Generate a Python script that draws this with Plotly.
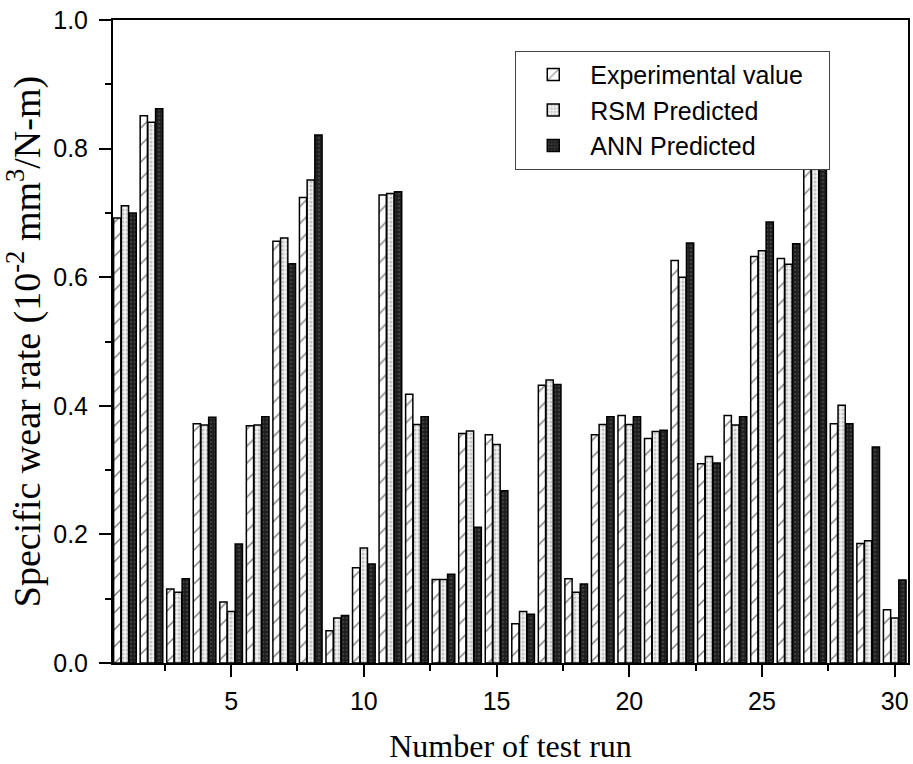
import plotly.graph_objects as go

runs = list(range(1, 31))
experimental = [0.692, 0.851, 0.115, 0.372, 0.095, 0.369, 0.656, 0.724, 0.050, 0.148,
                0.728, 0.418, 0.130, 0.357, 0.355, 0.061, 0.432, 0.131, 0.355, 0.385,
                0.349, 0.626, 0.310, 0.385, 0.632, 0.629, 0.820, 0.372, 0.186, 0.083]
rsm_predicted = [0.711, 0.841, 0.110, 0.370, 0.080, 0.370, 0.661, 0.751, 0.070, 0.179,
                 0.730, 0.371, 0.130, 0.361, 0.340, 0.080, 0.440, 0.110, 0.371, 0.371,
                 0.360, 0.600, 0.321, 0.370, 0.641, 0.620, 0.830, 0.401, 0.190, 0.070]
ann_predicted = [0.700, 0.862, 0.131, 0.382, 0.185, 0.383, 0.621, 0.821, 0.074, 0.154,
                 0.733, 0.383, 0.138, 0.211, 0.268, 0.076, 0.433, 0.123, 0.383, 0.383,
                 0.362, 0.653, 0.311, 0.383, 0.686, 0.652, 0.850, 0.372, 0.336, 0.129]
series_names = ["Experimental value", "RSM Predicted", "ANN Predicted"]

pad = "\u00a0" * 3  # trailing space to widen the legend box like the reference

fig = go.Figure()
fig.add_trace(go.Bar(
    x=runs, y=experimental, name=series_names[0] + pad,
    marker=dict(color="white", line=dict(color="black", width=1.5),
                pattern=dict(shape="/", fgcolor="black", bgcolor="white",
                             size=12, solidity=0.12, fillmode="overlay")),
))
fig.add_trace(go.Bar(
    x=runs, y=rsm_predicted, name=series_names[1],
    marker=dict(color="#eeeeee", line=dict(color="black", width=1.5),
                pattern=dict(shape=".", fgcolor="#9a9a9a", bgcolor="#f2f2f2",
                             size=4, solidity=0.45, fillmode="overlay")),
))
fig.add_trace(go.Bar(
    x=runs, y=ann_predicted, name=series_names[2],
    marker=dict(color="#1e1e1e", line=dict(color="black", width=1.5),
                pattern=dict(shape=".", fgcolor="#5a5a5a", bgcolor="#1e1e1e",
                             size=4, solidity=0.35, fillmode="overlay")),
))

fig.update_layout(
    width=913, height=764,
    margin=dict(l=113, r=3, t=20, b=100),
    paper_bgcolor="white", plot_bgcolor="white",
    barmode="group", bargap=0.13, bargroupgap=0.06,
    font=dict(family="Liberation Sans, Arial", color="black"),
    showlegend=True,
    legend=dict(x=0.506, y=0.952, xanchor="left", yanchor="top",
                bgcolor="white", bordercolor="#444", borderwidth=1,
                font=dict(size=25, family="Liberation Sans, Arial", color="black"),
                itemwidth=64, tracegroupgap=0),
)
fig.update_xaxes(
    range=[0.55, 30.5], tickmode="linear", tick0=0, dtick=5,
    ticks="outside", ticklen=12, tickwidth=2, tickcolor="black",
    minor=dict(ticks="outside", ticklen=6, tickwidth=2, tickcolor="black", dtick=2.5, tick0=0),
    showline=True, linecolor="black", linewidth=2, mirror=True,
    showgrid=False, zeroline=False, ticklabelstandoff=3,
    tickfont=dict(size=25, family="Liberation Sans, Arial"),
    title=dict(text="Number of test run", font=dict(size=32, family="Liberation Serif, Times New Roman"),
               standoff=24),
)
fig.update_yaxes(
    range=[0, 1.0], tickmode="linear", tick0=0, dtick=0.2, tickformat=".1f",
    ticks="outside", ticklen=12, tickwidth=2, tickcolor="black",
    minor=dict(ticks="outside", ticklen=6, tickwidth=2, tickcolor="black", dtick=0.1, tick0=0),
    showline=True, linecolor="black", linewidth=2, mirror=True,
    showgrid=False, zeroline=False, ticklabelstandoff=6,
    tickfont=dict(size=25, family="Liberation Sans, Arial"),
    title=dict(text="Specific wear rate (10<sup>-2</sup> mm<sup>3</sup>/N-m)",
               font=dict(size=38, family="Liberation Serif, Times New Roman"), standoff=3),
)

fig.write_html("out.html")
